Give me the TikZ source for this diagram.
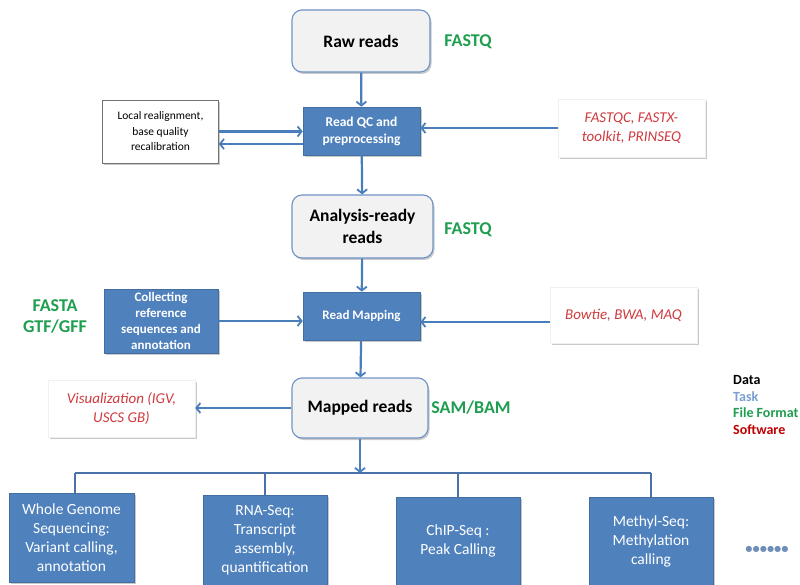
\documentclass[tikz,border=0pt]{standalone}
\usepackage{fontspec}
\setmainfont{Carlito}
\usetikzlibrary{arrows.meta,shadows}
\definecolor{tblue}{HTML}{4F81BD}
\definecolor{lblue}{HTML}{4A7EBB}
\definecolor{gborder}{HTML}{6F93C6}
\definecolor{fgreen}{HTML}{1F9E50}
\definecolor{sred}{HTML}{CF3A3E}
\definecolor{legred}{HTML}{C00000}
\definecolor{legblue}{HTML}{7BA0D2}
\definecolor{busblue}{HTML}{4A72A8}
\begin{document}
\begin{tikzpicture}[x=1pt,y=-1pt,
  shad/.style={drop shadow={shadow xshift=1.5pt,shadow yshift=-2pt,opacity=0.35,fill=black!60}},
  databox/.style={draw=gborder,line width=1.1pt,fill=black!5,rounded corners=10pt,
    font=\fontsize{17.5}{22}\selectfont\bfseries,align=center,inner sep=2pt,shad},
  taskbox/.style={fill=tblue,draw=tblue!85!black,line width=0.6pt,text=white,align=center,inner sep=2pt,shad},
  softbox/.style={fill=white,draw=black!6,text=sred,font=\fontsize{15}{19}\selectfont\itshape,align=center,inner sep=2pt,shad},
  fmt/.style={text=fgreen,font=\fontsize{18}{21}\selectfont\bfseries,align=center},
  flow/.style={draw=lblue,line width=2.2pt,-{Straight Barb[length=4pt,width=10pt,line width=1.8pt]}},
  busline/.style={draw=busblue,line width=1.6pt},
  leg/.style={anchor=west,font=\fontsize{14}{16}\selectfont\bfseries,inner sep=0pt}]
\path[fill=white] (0,0) rectangle (800,585);
\useasboundingbox (0,0) rectangle (800,585);

% main column
\node[databox,minimum width=138pt,minimum height=62pt] (raw) at (361,41) {Raw reads};
\node[taskbox,minimum width=117pt,minimum height=48pt,font=\fontsize{13.5}{17}\selectfont\bfseries] (qc) at (361.5,131) {Read QC and\\preprocessing};
\node[databox,minimum width=141pt,minimum height=63pt] (ar) at (362.5,226.5) {Analysis-ready\\reads};
\node[taskbox,minimum width=117pt,minimum height=48pt,font=\fontsize{13}{16}\selectfont\bfseries] (map) at (361.5,316) {Read Mapping};
\node[databox,minimum width=136pt,minimum height=60pt] (mapped) at (360,408) {Mapped reads};

% side boxes
\node[fill=white,draw=black!55,line width=0.6pt,align=center,inner sep=2pt,shad,
  minimum width=116pt,minimum height=63pt,font=\fontsize{11.5}{15.5}\selectfont] (local) at (160.5,131.5)
  {Local realignment,\\base quality\\recalibration};
\node[softbox,minimum width=147pt,minimum height=58pt] (fastqc) at (631.5,128) {FASTQC, FASTX-\\toolkit, PRINSEQ};
\node[taskbox,minimum width=114pt,minimum height=64pt,font=\fontsize{13}{16.3}\selectfont\bfseries] (coll) at (161,321)
  {Collecting\\reference\\sequences and\\annotation};
\node[softbox,minimum width=147pt,minimum height=56pt] (bowtie) at (623.5,315) {Bowtie, BWA, MAQ};
\node[softbox,minimum width=147pt,minimum height=57pt] (vis) at (121.5,408.5) {Visualization (IGV,\\USCS GB)};

% file formats
\node[fmt] (f1) at (468,42) {FASTQ};
\node[fmt] (f2) at (468,230) {FASTQ};
\node[fmt] (f3) at (55,317) {FASTA\\GTF/GFF};
\node[fmt] (f4) at (471,408) {SAM/BAM};

% legend
\node[leg,text=black] (l1) at (733,380) {Data};
\node[leg,text=legblue] (l2) at (733,396.5) {Task};
\node[leg,text=fgreen] (l3) at (733,413) {File Format};
\node[leg,text=legred] (l4) at (733,430) {Software};

% bottom boxes
\node[taskbox,minimum width=125pt,minimum height=89pt,font=\fontsize{15.5}{19}\selectfont] (wgs) at (71.5,537.5)
  {Whole Genome\\Sequencing:\\Variant calling,\\annotation};
\node[taskbox,minimum width=124pt,minimum height=90pt,font=\fontsize{15.5}{19}\selectfont] (rna) at (265,540)
  {RNA-Seq:\\Transcript\\assembly,\\quantification};
\node[taskbox,minimum width=124pt,minimum height=88pt,font=\fontsize{15.5}{19}\selectfont] (chip) at (458,541)
  {ChIP-Seq :\\Peak Calling};
\node[taskbox,minimum width=124pt,minimum height=88pt,font=\fontsize{15.5}{19}\selectfont] (methyl) at (651,541)
  {Methyl-Seq:\\Methylation\\calling};
\node[text=busblue!80,font=\fontsize{14.5}{14}\selectfont\bfseries,inner sep=0pt] (dots) at (767,550) {••••••};

% connectors
\draw[flow] (raw) -- (qc);
\draw[flow] (local.east) -- (local.east -| qc.west);
\draw[flow] ([yshift=-13pt]qc.west) -- ([yshift=-13pt]qc.west -| local.east);
\draw[flow] (fastqc.west) -- (fastqc.west -| qc.east);
\draw[flow] (qc) -- (ar);
\draw[flow] (ar) -- (map);
\draw[flow] (coll.east) -- (coll.east -| map.west);
\draw[flow] ([yshift=-7pt]bowtie.west) -- ([yshift=-7pt]bowtie.west -| map.east);
\draw[flow] (map) -- (mapped);
\draw[flow] (mapped.west) -- (mapped.west -| vis.east);

\coordinate (bus) at (360,473);
\draw[flow] (mapped) -- (bus);
\draw[busline] ([xshift=3.5pt]wgs.north |- bus) -- (methyl.north |- bus);
\draw[busline] ([xshift=3.5pt]wgs.north) -- ([xshift=3.5pt]wgs.north |- bus);
\draw[busline] (rna.north) -- (rna.north |- bus);
\draw[busline] (chip.north) -- (chip.north |- bus);
\draw[busline] (methyl.north) -- (methyl.north |- bus);
\end{tikzpicture}
\end{document}
